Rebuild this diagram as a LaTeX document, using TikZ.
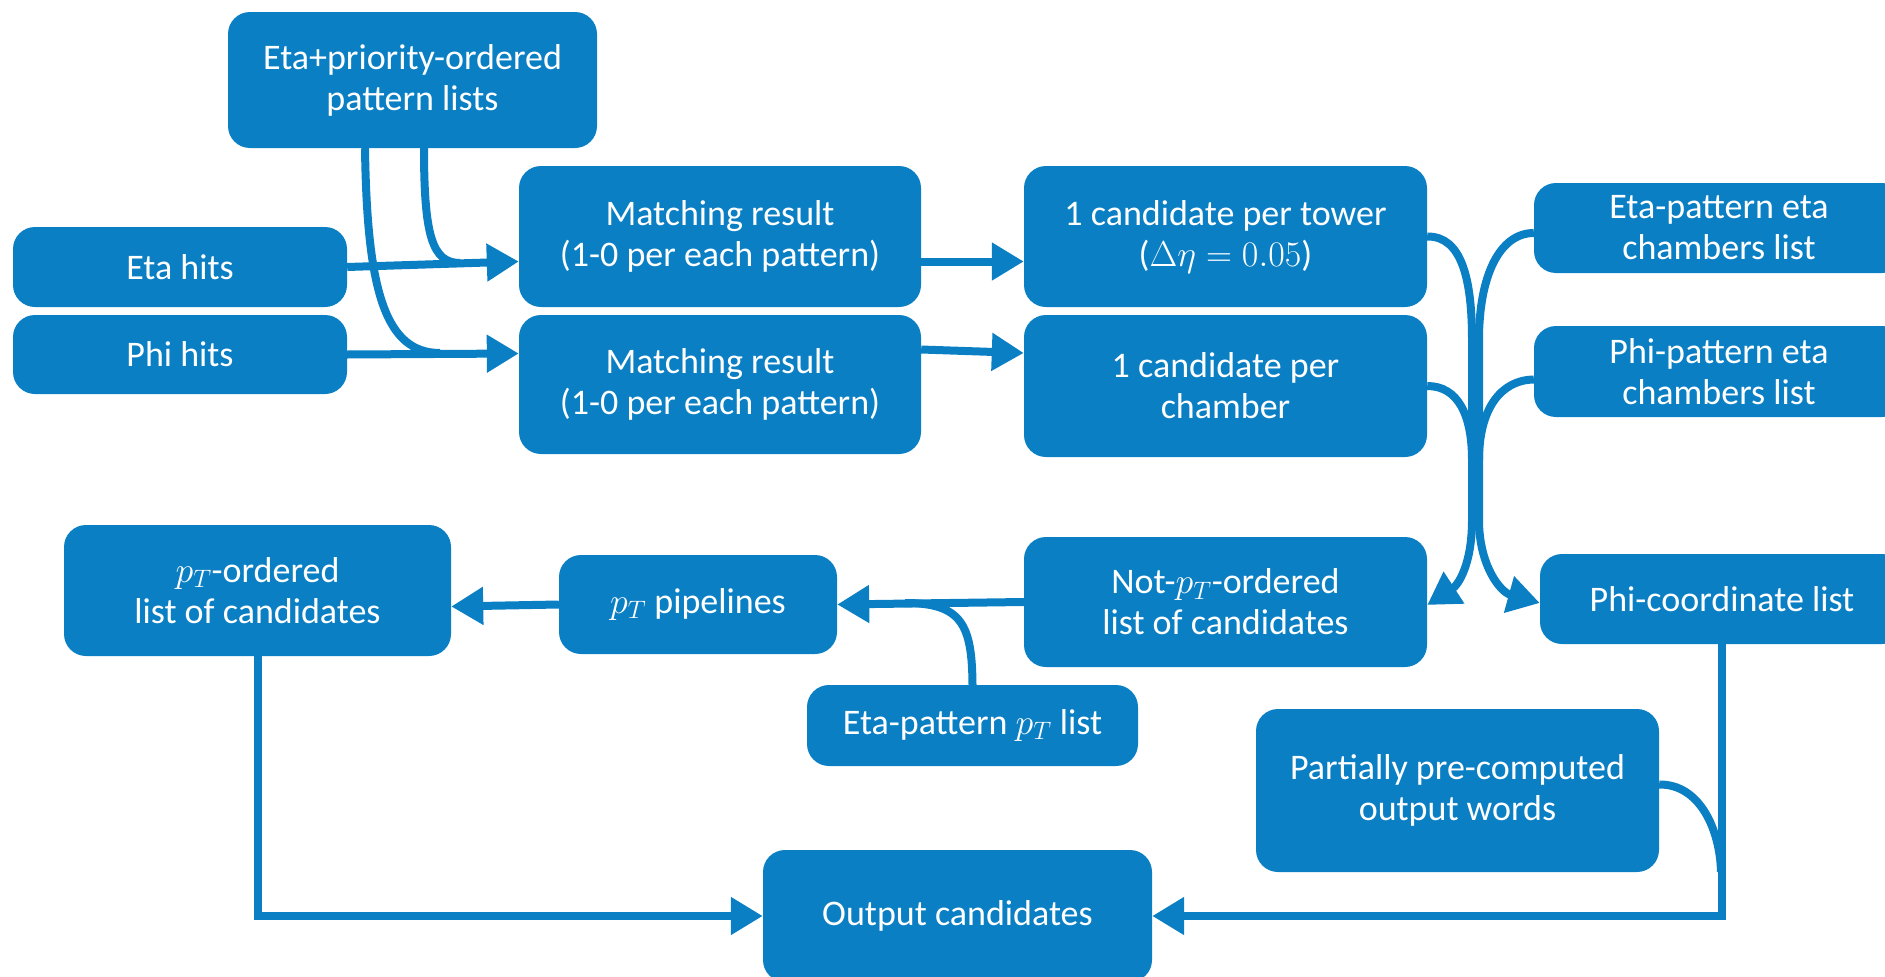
\RequirePackage{fix-cm}
\documentclass[tikz,border=0pt]{standalone}
\usepackage{fontspec}
\setmainfont{Carlito}
\usetikzlibrary{arrows.meta}
\definecolor{boxblue}{HTML}{0B7FC4}
\begin{document}
\begin{tikzpicture}[x=1pt,y=-1pt,
  box/.style={fill=boxblue, rounded corners=22pt, text=white, align=center,
    font=\fontsize{36}{41}\selectfont, inner sep=0pt},
  link/.style={draw=boxblue, line width=8pt},
  arr/.style={link, -{Triangle[length=32pt,width=36pt]}},
]
\useasboundingbox (0,0) rectangle (1885,977);
\clip (0,0) rectangle (1885,977);

% boxes
\node[box, minimum width=369pt, minimum height=136pt] (prio) at (412.5,80) {Eta+priority-ordered\\pattern lists};
\node[box, minimum width=334pt, minimum height=80pt] (etahits) at (180,267) {Eta hits};
\node[box, minimum width=334pt, minimum height=79pt] (phihits) at (180,354.5) {Phi hits};
\node[box, minimum width=402pt, minimum height=141pt] (match1) at (720,236.5) {Matching result\\(1-0 per each pattern)};
\node[box, minimum width=402pt, minimum height=139pt] (match2) at (720,384.5) {Matching result\\(1-0 per each pattern)};
\node[box, minimum width=403pt, minimum height=141pt] (tower) at (1225.5,236.5) {1 candidate per tower\\($\Delta\eta = 0.05$)};
\node[box, minimum width=403pt, minimum height=142pt] (chamber) at (1225.5,386) {1 candidate per\\chamber};
\node[box, minimum width=370pt, minimum height=90pt] (etapat) at (1719,228) {Eta-pattern eta\\chambers list};
\node[box, minimum width=370pt, minimum height=91pt] (phipat) at (1719,371.5) {Phi-pattern eta\\chambers list};
\node[box, minimum width=403pt, minimum height=130pt] (notpt) at (1225.5,602) {Not-$p_T$-ordered\\list of candidates};
\node[box, minimum width=364pt, minimum height=90pt] (phicoord) at (1722,599) {Phi-coordinate list};
\node[box, minimum width=387pt, minimum height=131pt] (ptord) at (257.5,590.5) {$p_T$-ordered\\list of candidates};
\node[box, minimum width=278pt, minimum height=99pt] (ptpipe) at (698,604.5) {$p_T$ pipelines};
\node[box, minimum width=331pt, minimum height=81pt] (etapt) at (972.5,725.5) {Eta-pattern $p_T$ list};
\node[box, minimum width=403pt, minimum height=163pt] (partial) at (1457.5,790.5) {Partially pre-computed\\output words};
\node[box, minimum width=389pt, minimum height=132pt] (output) at (957.5,916) {Output candidates};

% hit inputs and pattern lists
\coordinate (j1) at (460,263);
\coordinate (j2) at (440,353);
\draw[arr] (etahits.east) -- ([yshift=-25pt]match1.west);
\draw[arr] (phihits.east) -- ([yshift=31pt]match2.west);
\draw[link] ([xshift=11.5pt]prio.south) .. controls (424,235) and (432,263) .. (j1);
\draw[link] ([xshift=-47.5pt]prio.south) .. controls (367,290) and (385,353) .. (j2);

% matching to candidates
\draw[arr] ([yshift=-25pt]match1.east) -- ([yshift=-25pt]tower.west);
\draw[arr] ([yshift=35pt]match2.east) -- ([yshift=33pt]chamber.west);

% merging trunk on the right
\coordinate (tL) at (1472,520);
\coordinate (tR) at (1479,520);
\draw[link] (tower.east) .. controls (1462,236) and (1472,280) .. (1472,340) -- (tL);
\draw[link] (chamber.east) .. controls (1458,386) and (1472,415) .. (1472,460);
\draw[link] ([yshift=-5pt]etapat.west) .. controls (1500,233) and (1479,275) .. (1479,340) -- (tR);
\draw[link] ([yshift=-8pt]phipat.west) .. controls (1500,380) and (1479,410) .. (1479,460);
\draw[arr] (tL) .. controls (1472,565) and (1458,585) .. ([yshift=-3pt]notpt.east);
\draw[arr] (tR) .. controls (1479,565) and (1500,592) .. ([yshift=-4pt]phicoord.west);

% pT sorting chain
\coordinate (j3) at (905,603);
\draw[arr] (notpt.west) -- (ptpipe.east);
\draw[link] (etapt.north) .. controls (972,625) and (962,603) .. (j3);
\draw[arr] (ptpipe.west) -- ([yshift=-16pt]ptord.east);

% output assembly
\draw[arr] (ptord.south) |- (output.west);
\draw[arr] (phicoord.south) |- (output.east);
\draw[link] ([yshift=6pt]partial.east) .. controls (1700,784) and (1720,830) .. (1721,872);
\end{tikzpicture}
\end{document}
